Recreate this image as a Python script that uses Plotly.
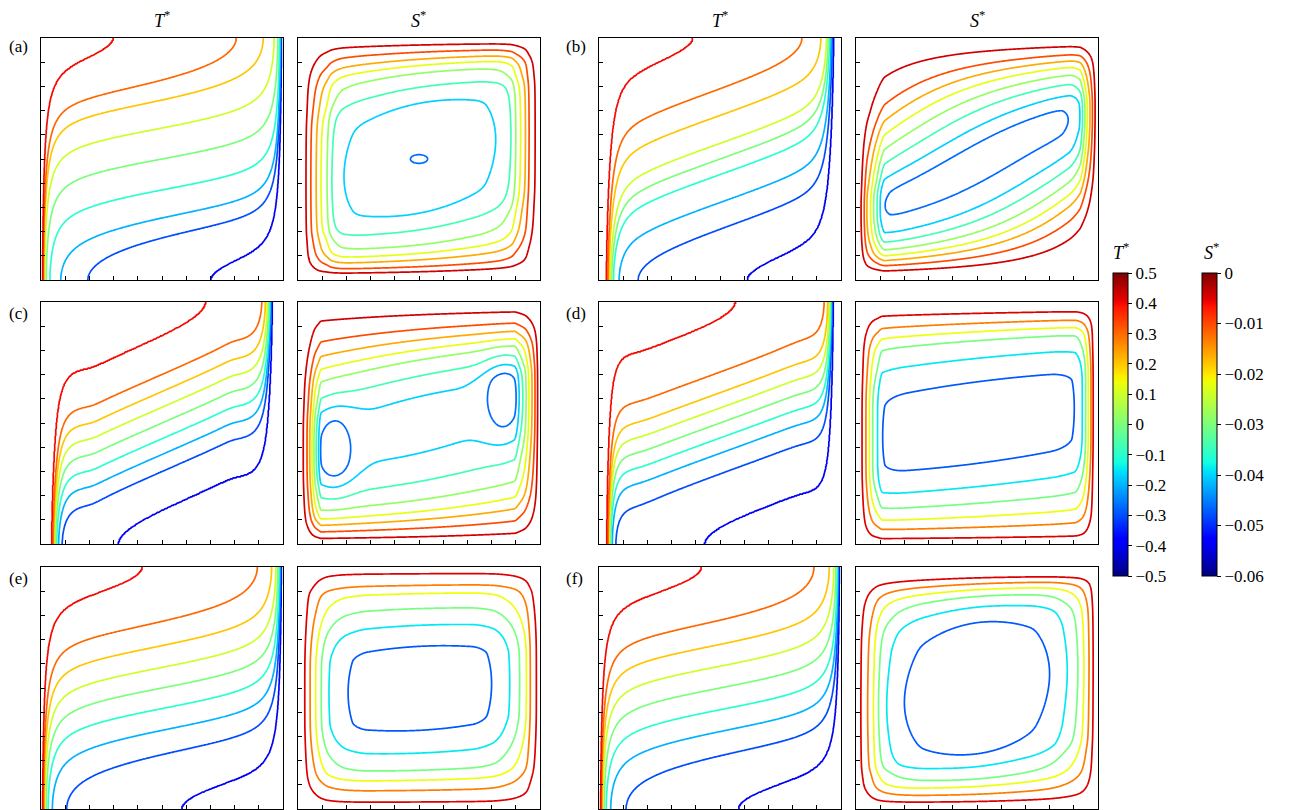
import numpy as np
import plotly.graph_objects as go

# ------------------------------------------------------------------ data
PANEL_LABELS = ["(a)", "(b)", "(c)", "(d)", "(e)", "(f)"]
T_TITLE = "<i>T</i><sup>*</sup>"
S_TITLE = "<i>S</i><sup>*</sup>"

T_LEVELS = [-0.4, -0.3, -0.2, -0.1, 0.0, 0.1, 0.2, 0.3, 0.4]
T_TICKS = [0.5, 0.4, 0.3, 0.2, 0.1, 0.0, -0.1, -0.2, -0.3, -0.4, -0.5]
S_TICKS = [0.0, -0.01, -0.02, -0.03, -0.04, -0.05, -0.06]

# points (x, y) that the isotherms T* = 0.1, 0.2, 0.3, 0.4 pass through
T_ANCHORS = [
    [(0.5, 0.628), (0.5, 0.744), (0.5, 0.826), (0.30, 1.0)],
    [(0.5, 0.564), (0.5, 0.680), (0.5, 0.790), (0.39, 1.0)],
    [(0.5, 0.565), (0.5, 0.630), (0.5, 0.700), (0.50, 0.86)],
    [(0.5, 0.562), (0.5, 0.625), (0.5, 0.710), (0.565, 1.0)],
    [(0.5, 0.585), (0.5, 0.675), (0.5, 0.775), (0.42, 1.0)],
    [(0.5, 0.590), (0.5, 0.680), (0.5, 0.780), (0.425, 1.0)],
]
# shape of the temperature field in each panel
T_CORE_TILT = [0.12, 0.33, 0.43, 0.36, 0.13, 0.13]
T_CORE_HALF = [0.40, 0.38, 0.29, 0.33, 0.40, 0.40]
T_CORE_SHARP = [8, 10, 40, 20, 8, 8]
T_WALL_LAYER = [0.008, 9.4e-4, 7.4e-5, 3.3e-5, 0.008, 0.008]
T_WALL_POWER = [1, 2, 3, 3, 1, 1]
T_TOP_LAYER0 = [0.04, 0.03, 0.03, 0.03, 0.04, 0.04]
T_TOP_LAYER1 = [0.10, 0.05, 0.05, 0.06, 0.09, 0.09]

# stream-function levels (outermost -> innermost)
S_LEVELS_8 = [-0.0042, -0.0102, -0.0162, -0.0222, -0.0282, -0.0342, -0.0402, -0.0462]
S_LEVELS_6 = [-0.0048, -0.0133, -0.0218, -0.0303, -0.0388, -0.0473]
S_LEVEL_SET = [S_LEVELS_8, S_LEVELS_8, S_LEVELS_8, S_LEVELS_6, S_LEVELS_6, S_LEVELS_6]

# where each level crosses the vertical centre line (top / bottom)
S_TOP = [
    [0.971, 0.941, 0.912, 0.886, 0.854, 0.796, 0.730],
    [0.942, 0.887, 0.846, 0.805, 0.756, 0.700, 0.633, 0.564],
    [0.947, 0.887, 0.843, 0.802, 0.760, 0.694, 0.609],
    [0.953, 0.912, 0.877, 0.840, 0.767, 0.670],
    [0.972, 0.924, 0.890, 0.828, 0.759, 0.672],
    [0.955, 0.930, 0.906, 0.878, 0.834, 0.770],
]
S_BOTTOM = [
    [0.034, 0.055, 0.083, 0.110, 0.145, 0.207, 0.276],
    [0.061, 0.096, 0.130, 0.161, 0.198, 0.246, 0.301, 0.397],
    [0.030, 0.065, 0.100, 0.134, 0.182, 0.258, 0.375],
    [0.026, 0.069, 0.113, 0.168, 0.237, 0.333],
    [0.029, 0.077, 0.119, 0.160, 0.231, 0.325],
    [0.031, 0.061, 0.093, 0.124, 0.175, 0.228],
]
# where each level crosses the horizontal centre line (left / right)
S_LEFT = [
    [0.033, 0.053, 0.075, 0.095, 0.120, 0.140, 0.190],
    [0.021, 0.034, 0.045, 0.060, 0.073, 0.087, 0.100, 0.120],
    [0.022, 0.038, 0.050, 0.060, 0.070, 0.083, 0.097],
    [0.025, 0.041, 0.055, 0.069, 0.089, 0.110],
    [0.028, 0.050, 0.073, 0.096, 0.128, 0.207],
    [0.020, 0.048, 0.072, 0.093, 0.127, 0.200],
]
S_RIGHT = [
    [0.980, 0.955, 0.940, 0.920, 0.900, 0.880, 0.817],
    [0.988, 0.977, 0.967, 0.956, 0.946, 0.936, 0.925, 0.877],
    [0.990, 0.979, 0.966, 0.952, 0.938, 0.917, 0.893],
    [0.980, 0.971, 0.960, 0.949, 0.935, 0.902],
    [0.985, 0.960, 0.944, 0.916, 0.875, 0.800],
    [0.980, 0.963, 0.942, 0.917, 0.873, 0.800],
]
S_CORE = [0.0432, 0.0476, 0.0410, 0.0488, 0.0505, 0.0545]
S_SHEAR = [0.25, 0.55, 0.25, 0.15, 0.06, 0.20]
S_FLATNESS = [0.62, 0.72, 0.6, 0.85, 0.75, 0.55]
# secondary vortex cores: (x, y, width x, width y, strength)
S_EYES = [
    [(0.50, 0.50, 0.06, 0.03, 0.10)],
    [],
    [(0.15, 0.385, 0.08, 0.16, 0.28), (0.85, 0.61, 0.08, 0.16, 0.28)],
    [], [], [],
]

# ------------------------------------------------------------------ helpers
def jet_rgb(t):
    t = float(np.clip(t, 0, 1))
    r = np.interp(t, [0, 0.35, 0.66, 0.89, 1], [0, 0, 1, 1, 0.5])
    g = np.interp(t, [0, 0.125, 0.375, 0.64, 0.91, 1], [0, 0, 1, 1, 0, 0])
    b = np.interp(t, [0, 0.11, 0.34, 0.65, 1], [0.5, 1, 1, 0, 0])
    return f"rgb({int(round(255*r))},{int(round(255*g))},{int(round(255*b))})"


def jet_scale(v0=0.0, v1=1.0, zmin=0.0, zmax=1.0, n=81):
    out = []
    for p in np.linspace(0, 1, n):
        v = v0 + p * (v1 - v0)
        out.append([float(p), jet_rgb((v - zmin) / (zmax - zmin))])
    return out


JET = jet_scale()


def pchip(xk, yk, x):
    xk = np.asarray(xk, float)
    yk = np.asarray(yk, float)
    h = np.diff(xk)
    d = np.diff(yk) / h
    m = np.zeros_like(yk)
    for i in range(1, len(xk) - 1):
        if d[i - 1] * d[i] > 0:
            w1 = 2 * h[i] + h[i - 1]
            w2 = h[i] + 2 * h[i - 1]
            m[i] = (w1 + w2) / (w1 / d[i - 1] + w2 / d[i])
    m[0] = d[0]
    m[-1] = d[-1]
    x = np.clip(x, xk[0], xk[-1])
    i = np.clip(np.searchsorted(xk, x) - 1, 0, len(xk) - 2)
    t = (x - xk[i]) / h[i]
    h00 = 2 * t**3 - 3 * t**2 + 1
    h10 = t**3 - 2 * t**2 + t
    h01 = -2 * t**3 + 3 * t**2
    h11 = t**3 - t**2
    return h00 * yk[i] + h10 * h[i] * m[i] + h01 * yk[i + 1] + h11 * h[i] * m[i + 1]


def softclip(u, L, k):
    return (np.logaddexp(k * (u + L), -k * (u + L)) - np.logaddexp(k * (u - L), -k * (u - L))) / (2 * k)


s = np.linspace(0, 1, 341)
GRID = 0.5 - 0.5 * np.cos(np.pi * s)
X, Y = np.meshgrid(GRID, GRID)


def t_coord(x, y, p):
    a, L, k, c, n, e0, e1 = p
    et = e0 + e1 * x
    eb = e0 + e1 * (1 - x)
    yw = y + eb * np.exp(-y / eb) - et * np.exp(-(1 - y) / et)
    hx = a * softclip(x - 0.5, L, k) + c * ((1 - x + 0.003) ** (-n) - (x + 0.003) ** (-n))
    return yw - 0.5 - hx


def t_field(i):
    p = (T_CORE_TILT[i], T_CORE_HALF[i], T_CORE_SHARP[i], T_WALL_LAYER[i], T_WALL_POWER[i],
         T_TOP_LAYER0[i], T_TOP_LAYER1[i])
    xi = t_coord(X, Y, p)
    lev = [float(t_coord(np.array(ax), np.array(ay), p)) for ax, ay in T_ANCHORS[i]]
    knots = [-1e9] + [-v for v in lev[::-1]] + [0.0] + lev + [1e9]
    vals = [-0.5, -0.4, -0.3, -0.2, -0.1, 0.0, 0.1, 0.2, 0.3, 0.4, 0.5]
    return np.interp(xi, knots, vals)


def profile(lo, hi, levels, core, flat):
    n = len(lo)
    q = [abs(v) / core for v in levels[:n]]
    cen = 0.5 * (lo[-1] + hi[-1])
    qf = q[-1] + flat * (1 - q[-1])
    lo_f = lo[-1] + 0.28 * (cen - lo[-1])
    hi_f = hi[-1] - 0.28 * (hi[-1] - cen)
    pos = [0.0] + list(lo) + [lo_f, cen, hi_f] + list(hi[::-1]) + [1.0]
    val = [0.0] + q + [qf, 1.0, qf] + q[::-1] + [0.0]
    return pos, val


def s_field(i):
    A = S_CORE[i]
    lv = S_LEVEL_SET[i]
    py, vy = profile(S_BOTTOM[i], S_TOP[i], lv, A, S_FLATNESS[i])
    px, vx = profile(S_LEFT[i], S_RIGHT[i], lv, A, S_FLATNESS[i])
    ys = Y - S_SHEAR[i] * (X - 0.5) * np.sin(np.pi * Y)
    G = pchip(px, vx, X) * pchip(py, vy, ys)
    B = np.ones_like(G)
    for ex, ey, sx, sy, beta in S_EYES[i]:
        B += beta * np.exp(-(((X - ex) / sx) ** 2 + ((Y - ey) / sy) ** 2))
    return -A * G * B


# ------------------------------------------------------------------ figure
W, H = 1303, 810
COL_LEFT = [41, 298, 599, 856]
ROW_TOP = [38, 302, 567]
SIZE = 242
FONT = "Liberation Serif, DejaVu Serif, serif"

fig = go.Figure()
layout = dict(width=W, height=H, margin=dict(l=0, r=0, t=0, b=0),
              paper_bgcolor="white", plot_bgcolor="white", showlegend=False)

axis_style = dict(range=[0, 1], showline=True, linecolor="black", linewidth=1,
                  mirror=True, ticks="inside", ticklen=4, tickwidth=1, tickcolor="black",
                  tick0=0, dtick=0.1, showticklabels=False, showgrid=False,
                  zeroline=False, fixedrange=True)

for idx in range(12):
    r, col = divmod(idx, 4)
    panel = r * 2 + col // 2
    xname = "x" if idx == 0 else f"x{idx+1}"
    yname = "y" if idx == 0 else f"y{idx+1}"
    xl = COL_LEFT[col]
    yt = ROW_TOP[r]
    layout["xaxis" if idx == 0 else f"xaxis{idx+1}"] = dict(
        axis_style, domain=[xl / W, (xl + SIZE) / W], anchor=yname)
    layout["yaxis" if idx == 0 else f"yaxis{idx+1}"] = dict(
        axis_style, domain=[max(0, 1 - (yt + SIZE) / H), 1 - yt / H], anchor=xname)
    if col % 2 == 0:
        z = t_field(panel)
        v0, v1 = T_LEVELS[0], T_LEVELS[-1]
        fig.add_trace(go.Contour(
            x=GRID, y=GRID, z=z, xaxis=xname, yaxis=yname,
            autocontour=False,
            contours=dict(start=v0, end=v1 + 1e-9, size=0.1, coloring="lines", showlabels=False),
            colorscale=jet_scale(v0, v1, -0.5, 0.5),
            line=dict(width=1.7, smoothing=1), showscale=False, hoverinfo="skip"))
    else:
        z = s_field(panel)
        lv = S_LEVEL_SET[panel]
        step = lv[0] - lv[1]
        v0, v1 = lv[-1], lv[0]
        fig.add_trace(go.Contour(
            x=GRID, y=GRID, z=z, xaxis=xname, yaxis=yname,
            autocontour=False,
            contours=dict(start=v0, end=v1 + 1e-9, size=step,
                          coloring="lines", showlabels=False),
            colorscale=jet_scale(v0, v1, -0.06, 0.0),
            line=dict(width=1.7, smoothing=1), showscale=False, hoverinfo="skip"))


def fmt(v, nd):
    if abs(v) < 1e-12:
        return "0"
    t = f"{abs(v):.{nd}f}"
    return ("\u2212" + t) if v < 0 else t


cb_common = dict(thickness=15, thicknessmode="pixels", len=(576 - 273) / H, lenmode="fraction",
                 y=1 - (273 + 576) / 2 / H, yanchor="middle", xanchor="left", xpad=0, ypad=0,
                 outlinewidth=1, outlinecolor="black", ticks="outside", ticklen=4,
                 tickcolor="black", tickfont=dict(family=FONT, size=17, color="black"))

fig.add_trace(go.Scatter(
    x=[-5, -5], y=[-5, -5], mode="markers", xaxis="x", yaxis="y", hoverinfo="skip",
    marker=dict(size=0, color=[-0.5, 0.5], colorscale=JET, cmin=-0.5, cmax=0.5, showscale=True,
                colorbar=dict(cb_common, x=1113 / W, tickvals=T_TICKS,
                              ticktext=[fmt(v, 1) for v in T_TICKS]))))
fig.add_trace(go.Scatter(
    x=[-5, -5], y=[-5, -5], mode="markers", xaxis="x", yaxis="y", hoverinfo="skip",
    marker=dict(size=0, color=[-0.06, 0.0], colorscale=JET, cmin=-0.06, cmax=0.0, showscale=True,
                colorbar=dict(cb_common, x=1202 / W, tickvals=S_TICKS,
                              ticktext=[fmt(v, 2) for v in S_TICKS]))))

ann = []
for col in range(4):
    ann.append(dict(text=T_TITLE if col % 2 == 0 else S_TITLE, x=(COL_LEFT[col] + SIZE / 2) / W,
                    y=1 - 19 / H, xref="paper", yref="paper", showarrow=False,
                    xanchor="center", yanchor="middle", font=dict(family=FONT, size=18, color="black")))
LABEL_X = [7, 564]
LABEL_Y = [46, 313, 578]
for p, lab in enumerate(PANEL_LABELS):
    r, c = divmod(p, 2)
    ann.append(dict(text=lab, x=LABEL_X[c] / W, y=1 - LABEL_Y[r] / H, xref="paper", yref="paper",
                    showarrow=False, xanchor="left", yanchor="middle",
                    font=dict(family=FONT, size=17, color="black")))
ann.append(dict(text=T_TITLE, x=1121 / W, y=1 - 251 / H, xref="paper", yref="paper", showarrow=False,
                xanchor="center", yanchor="middle", font=dict(family=FONT, size=18, color="black")))
ann.append(dict(text=S_TITLE, x=1211 / W, y=1 - 251 / H, xref="paper", yref="paper", showarrow=False,
                xanchor="center", yanchor="middle", font=dict(family=FONT, size=18, color="black")))
layout["annotations"] = ann

fig.update_layout(**layout)
fig.write_html("out.html")
